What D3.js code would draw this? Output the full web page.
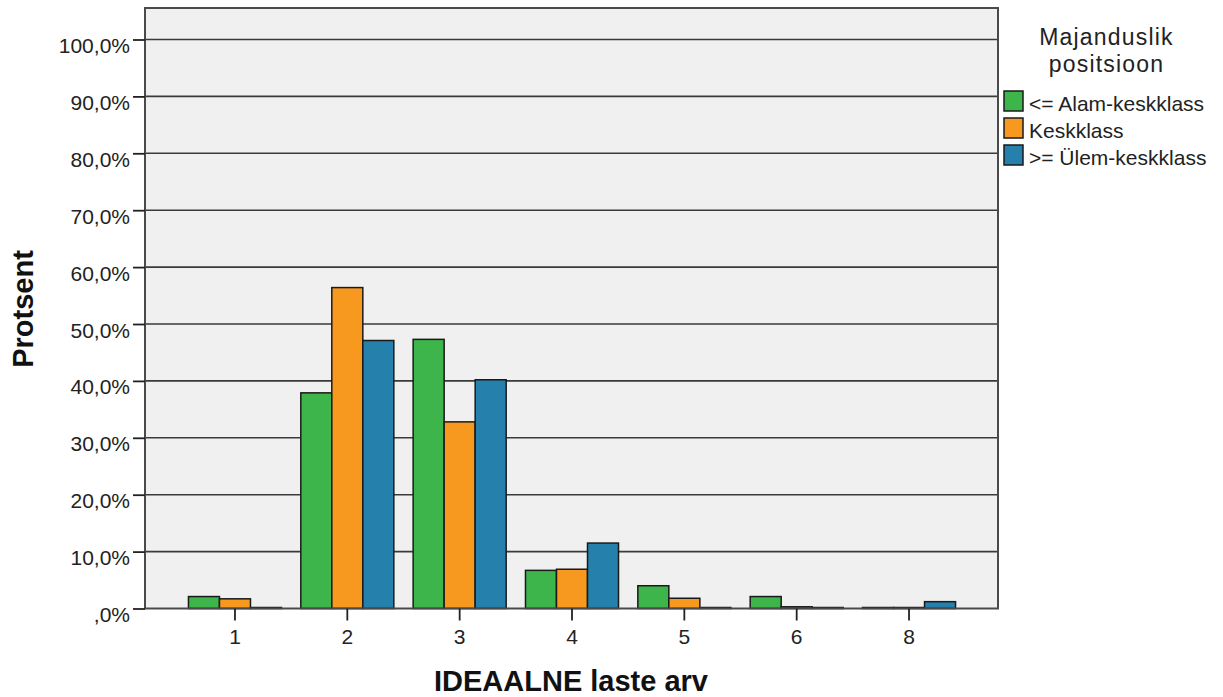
<!DOCTYPE html>
<html>
<head>
<meta charset="utf-8">
<script src="https://cdn.jsdelivr.net/npm/d3@7"></script>
<style>
  html, body { margin: 0; padding: 0; background: #ffffff; }
  svg { display: block; }
  text { font-family: "Liberation Sans", Arial, sans-serif; fill: #222; }
</style>
</head>
<body>
<svg id="chart" width="1223" height="697"></svg>
<script>
const categories = ["1", "2", "3", "4", "5", "6", "8"];
const seriesNames = ["<= Alam-keskklass", "Keskklass", ">= Ülem-keskklass"];
const seriesColors = ["#3db54a", "#f7991f", "#2580ab"];
const valuesAlam = [2.1, 37.9, 47.3, 6.7, 4.0, 2.1, 0];
const valuesKesk = [1.7, 56.4, 32.8, 6.9, 1.8, 0.3, 0];
const valuesUlem = [0, 47.1, 40.2, 11.5, 0, 0, 1.2];
const yTicks = [0, 10, 20, 30, 40, 50, 60, 70, 80, 90, 100];
const xTitle = "IDEAALNE laste arv";
const yTitle = "Protsent";
const legendTitle = ["Majanduslik", "positsioon"];

const allSeries = [valuesAlam, valuesKesk, valuesUlem];

const svg = d3.select("#chart");
const frame = { left: 145, right: 998, top: 8, bottom: 608.5 };

const y = d3.scaleLinear().domain([0, 100]).range([608.5, 39.5]);
const x = d3.scaleBand().domain(categories).range([178.8, 965.2])
  .paddingInner(0.172).paddingOuter(0.086);
const x1 = d3.scaleBand().domain(d3.range(seriesNames.length)).range([0, x.bandwidth()]);

// plot background
svg.append("rect")
  .attr("x", frame.left).attr("y", frame.top)
  .attr("width", frame.right - frame.left).attr("height", frame.bottom - frame.top)
  .attr("fill", "#f0f0f0");

// gridlines
svg.append("g").selectAll("line").data(yTicks.filter(d => d > 0)).join("line")
  .attr("x1", frame.left).attr("x2", frame.right)
  .attr("y1", d => y(d)).attr("y2", d => y(d))
  .attr("stroke", "#3a3a3a").attr("stroke-width", 1.6);

// bars
const flat = [];
categories.forEach((c, i) => {
  allSeries.forEach((s, j) => flat.push({ cat: c, s: j, v: s[i] }));
});
svg.append("g").selectAll("rect").data(flat).join("rect")
  .attr("x", d => x(d.cat) + x1(d.s))
  .attr("width", x1.bandwidth())
  .attr("y", d => Math.min(y(d.v), y(0) - 1))
  .attr("height", d => Math.max(y(0) - y(d.v), 1))
  .attr("fill", d => seriesColors[d.s])
  .attr("stroke", "#1a1a1a").attr("stroke-width", 1.5);

// frame
svg.append("rect")
  .attr("x", frame.left).attr("y", frame.top)
  .attr("width", frame.right - frame.left).attr("height", frame.bottom - frame.top)
  .attr("fill", "none").attr("stroke", "#4a4a4a").attr("stroke-width", 2);

// y axis
const fmt = d => d === 0 ? ",0%" : d.toFixed(1).replace(".", ",") + "%";
const yAxis = d3.axisLeft(y).tickValues(yTicks).tickFormat(fmt).tickSize(12).tickPadding(3);
const gy = svg.append("g").attr("transform", `translate(${frame.left},0)`).call(yAxis);
gy.select(".domain").remove();
gy.selectAll(".tick line").attr("stroke", "#222").attr("stroke-width", 1.8);
gy.selectAll(".tick text").attr("font-size", 21).attr("dy", "0.62em")
  .attr("font-family", "'Liberation Sans', Arial, sans-serif").attr("fill", "#222");

// x axis
const xAxis = d3.axisBottom(x).tickSize(12).tickPadding(9);
const gx = svg.append("g").attr("transform", `translate(0,${frame.bottom})`).call(xAxis);
gx.select(".domain").remove();
gx.selectAll(".tick line").attr("stroke", "#222").attr("stroke-width", 1.8);
gx.selectAll(".tick text").attr("font-size", 21)
  .attr("font-family", "'Liberation Sans', Arial, sans-serif").attr("fill", "#222");

// axis titles
svg.append("text").attr("x", (frame.left + frame.right) / 2 - 0.5).attr("y", 691)
  .attr("text-anchor", "middle").attr("font-size", 29).attr("font-weight", "bold")
  .style("fill", "#111").text(xTitle);
svg.append("text").attr("transform", "translate(33,309) rotate(-90)")
  .attr("text-anchor", "middle").attr("font-size", 29).attr("font-weight", "bold")
  .style("fill", "#111").text(yTitle);

// legend
const lg = svg.append("g");
lg.selectAll("text.title").data(legendTitle).join("text").attr("class", "title")
  .attr("x", 1106.5).attr("y", (d, i) => 45 + i * 27)
  .attr("text-anchor", "middle").attr("font-size", 23).attr("letter-spacing", 1.2)
  .text(d => d);
const items = lg.selectAll("g.item").data(seriesNames).join("g").attr("class", "item")
  .attr("transform", (d, i) => `translate(1004,${91 + i * 27})`);
items.append("rect").attr("width", 19).attr("height", 20)
  .attr("fill", (d, i) => seriesColors[i]).attr("stroke", "#1a1a1a").attr("stroke-width", 1.5);
items.append("text").attr("x", 25).attr("y", 20).attr("font-size", 21).text(d => d);
</script>
</body>
</html>
